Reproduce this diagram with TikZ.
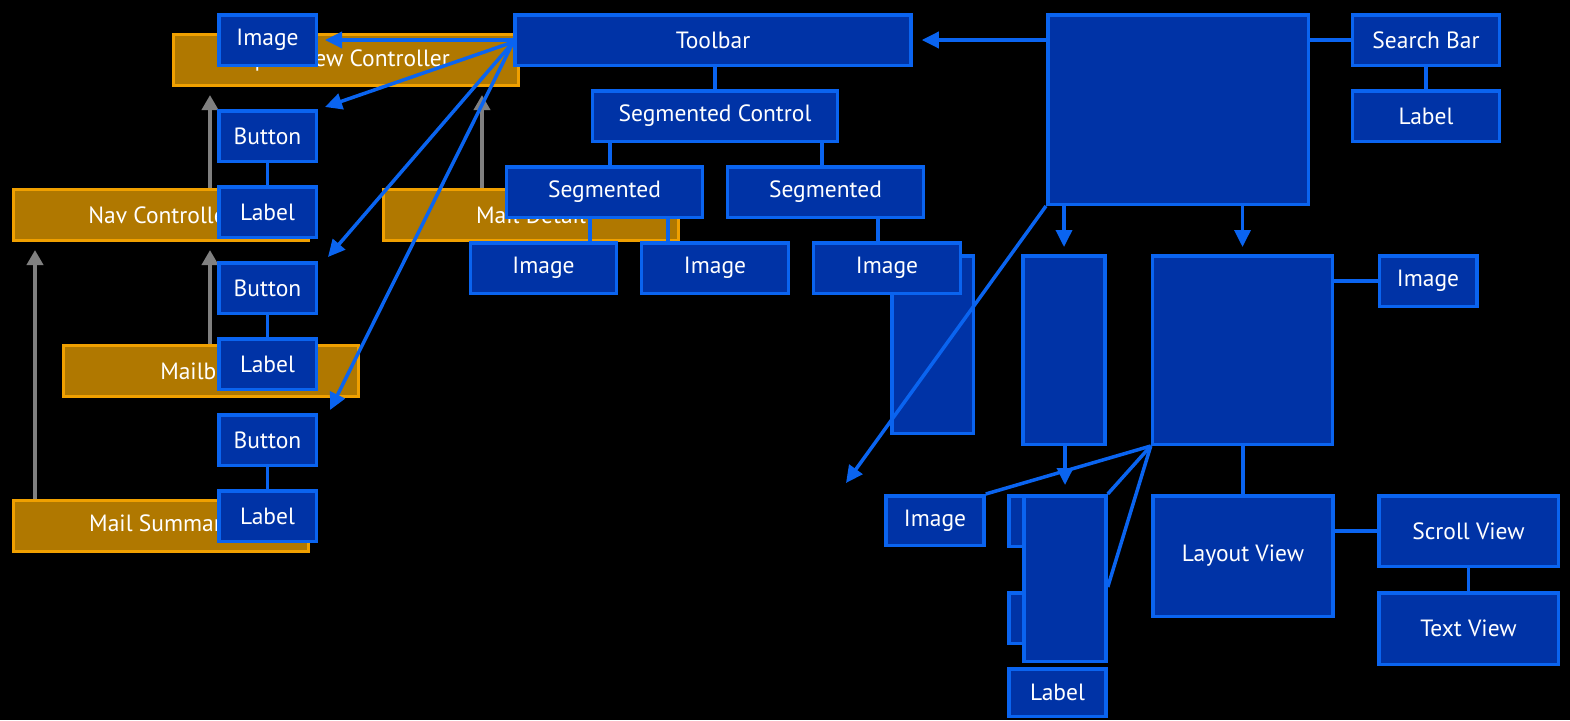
\documentclass[tikz,border=0pt]{standalone}
\usepackage{fontspec}
\setmainfont{PT Sans}
\usetikzlibrary{arrows.meta,calc}

\definecolor{bfill}{RGB}{0,51,166}
\definecolor{bline}{RGB}{10,100,240}
\definecolor{ofill}{RGB}{176,120,0}
\definecolor{oline}{RGB}{240,160,0}
\definecolor{garr}{RGB}{128,128,128}

\tikzset{
  lbl/.style={text=white, font=\fontsize{23.5}{28}\selectfont},
  vbox/.style={draw=bline, fill=bfill, line width=3.5pt, inner sep=0pt, lbl},
  ctrl/.style={draw=oline, fill=ofill, line width=3pt, inner sep=0pt, lbl},
  small/.style={minimum width=97.5pt, minimum height=50.5pt},
  bar/.style={minimum height=50.5pt},
  link/.style={draw=bline, line width=3.5pt},
  blink/.style={link, -{Triangle[length=17pt,width=16pt]}},
  uparrow/.style={draw=garr, line width=4pt, -{Triangle[length=15pt,width=16pt]}, shorten >=8pt},
}

\begin{document}
\begin{tikzpicture}[x=1pt, y=-1pt]
  \fill[black] (0,0) rectangle (1570,720);
  \useasboundingbox (0,0) rectangle (1570,720);

  % controllers
  \node[ctrl, minimum width=345pt, minimum height=51pt] (svc) at (346,60) {Split View Controller};
  \node[ctrl, minimum width=295pt, minimum height=51pt] (nav) at (161,215) {Nav Controller};
  \node[ctrl, minimum width=295pt, minimum height=51pt] (detail) at (531,215) {Mail Detail};
  \node[ctrl, minimum width=295pt, minimum height=51pt] (mailboxes) at (211,371) {Mailboxes};
  \node[ctrl, minimum width=295pt, minimum height=51pt] (summary) at (161,526) {Mail Summary};

  % controller ownership
  \draw[uparrow] ([xshift=49pt]nav.north) -- ([xshift=-136pt]svc.south);
  \draw[uparrow] ([xshift=-49pt]detail.north) -- ([xshift=136pt]svc.south);
  \draw[uparrow] ([xshift=-126pt]summary.north) -- ([xshift=-126pt]nav.south);
  \draw[uparrow] ([xshift=-1pt]mailboxes.north) -- ([xshift=49pt]nav.south);

  % left column of views
  \node[vbox, small] (img0) at (267.5,40) {Image};
  \node[vbox, small] (btn1) at (267.5,136) {Button};
  \node[vbox, small] (lbl1) at (267.5,212) {Label};
  \node[vbox, small] (btn2) at (267.5,288) {Button};
  \node[vbox, small] (lbl2) at (267.5,364) {Label};
  \node[vbox, small] (btn3) at (267.5,440) {Button};
  \node[vbox, small] (lbl3) at (267.5,516) {Label};

  % toolbar tree
  \node[vbox, bar, minimum width=396pt] (toolbar) at (713,40) {Toolbar};
  \node[vbox, bar, minimum width=245pt] (segctl) at (715,116) {Segmented Control};
  \node[vbox, bar, minimum width=196pt] (seg1) at (604.5,192) {Segmented};
  \node[vbox, bar, minimum width=196pt] (seg2) at (825.5,192) {Segmented};
  \node[vbox, minimum width=81.5pt, minimum height=177.5pt] (tallA) at (932.5,344.5) {};
  \node[vbox, bar, minimum width=146pt] (im1) at (543.5,268) {Image};
  \node[vbox, bar, minimum width=147pt] (im2) at (715,268) {Image};
  \node[vbox, bar, minimum width=147pt] (im3) at (887,268) {Image};

  % right hand tree
  \node[vbox, minimum width=260.5pt, minimum height=189.5pt] (big) at (1178,109.5) {};
  \node[vbox, bar, minimum width=147pt] (search) at (1426,40) {Search Bar};
  \node[vbox, bar, minimum width=147pt] (slabel) at (1426,116) {Label};
  \node[vbox, minimum width=82pt, minimum height=188.5pt] (colA) at (1064,350) {};
  \node[vbox, minimum width=180pt, minimum height=188.5pt] (mid) at (1242.5,350) {};
  \node[vbox, minimum width=97.5pt, minimum height=50.5pt] (imR) at (1428,281) {Image};
  \node[vbox, minimum width=98pt, minimum height=49.5pt] (imB) at (935,520.5) {Image};
  \node[vbox, minimum width=49.5pt, minimum height=50.5pt] (hidA) at (1033.5,521) {};
  \node[vbox, minimum width=49.5pt, minimum height=50.5pt] (hidB) at (1033.5,618) {};
  \node[vbox, minimum width=82pt, minimum height=165.5pt] (colB) at (1065,578.5) {};
  \node[vbox, minimum width=97pt, minimum height=47.5pt] (lblB) at (1057.5,692.5) {Label};
  \node[vbox, minimum width=180pt, minimum height=120.5pt] (layout) at (1243,556) {Layout View};
  \node[vbox, minimum width=179.5pt, minimum height=70.5pt] (scroll) at (1468.5,531) {Scroll View};
  \node[vbox, minimum width=179.5pt, minimum height=71.5pt] (textv) at (1468.5,628.5) {Text View};

  % free arrow ends
  \coordinate (ta) at (325,107);
  \coordinate (tb) at (328,257);
  \coordinate (tc) at (330,410);
  \coordinate (td) at (846,483);

  % connectors, left
  \draw[link] (btn1.south) -- (lbl1.north);
  \draw[link] (btn2.south) -- (lbl2.north);
  \draw[link] (btn3.south) -- (lbl3.north);
  \draw[blink, shorten >=7pt] (toolbar.west) -- (img0.east);
  \draw[blink] ([yshift=-2pt]toolbar.west) -- (ta);
  \draw[blink] ([yshift=-2pt]toolbar.west) -- (tb);
  \draw[blink] ([yshift=-2pt]toolbar.west) -- (tc);

  % connectors, toolbar tree
  \draw[link] ([xshift=2pt]toolbar.south) -- (segctl.north);
  \draw[link] ([xshift=-105pt]segctl.south) -- ([xshift=5.5pt]seg1.north);
  \draw[link] ([xshift=107pt]segctl.south) -- ([xshift=-3.5pt]seg2.north);
  \draw[link] ([xshift=-14.5pt]seg1.south) -- ([xshift=46.5pt]im1.north);
  \draw[link] ([xshift=63.5pt]seg1.south) -- ([xshift=-47pt]im2.north);
  \draw[link] ([xshift=52.5pt]seg2.south) -- ([xshift=-9pt]im3.north);

  % connectors, right tree
  \draw[blink, shorten >=9pt] (big.west |- toolbar.east) -- (toolbar.east);
  \draw[link] (search.west) -- (search.west -| big.east);
  \draw[link] (search.south) -- (slabel.north);
  \draw[blink, shorten >=7pt] (colA.north |- big.south) -- (colA.north);
  \draw[blink, shorten >=7pt] (mid.north |- big.south) -- (mid.north);
  \draw[link] (imR.west) -- (imR.west -| mid.east);
  \draw[blink] (big.south west) -- (td);
  \draw[blink, shorten >=9pt] (colB.north |- colA.south) -- (colB.north);
  \draw[link] (mid.south west) -- (imB.north east);
  \draw[link] (mid.south west) -- (colB.north east);
  \draw[link] (mid.south west) -- ([yshift=-8.5pt]colB.east);
  \draw[link] (layout.north |- mid.south) -- (layout.north);
  \draw[link] (scroll.west) -- (scroll.west -| layout.east);
  \draw[link] (scroll.south) -- (textv.north);
\end{tikzpicture}
\end{document}
